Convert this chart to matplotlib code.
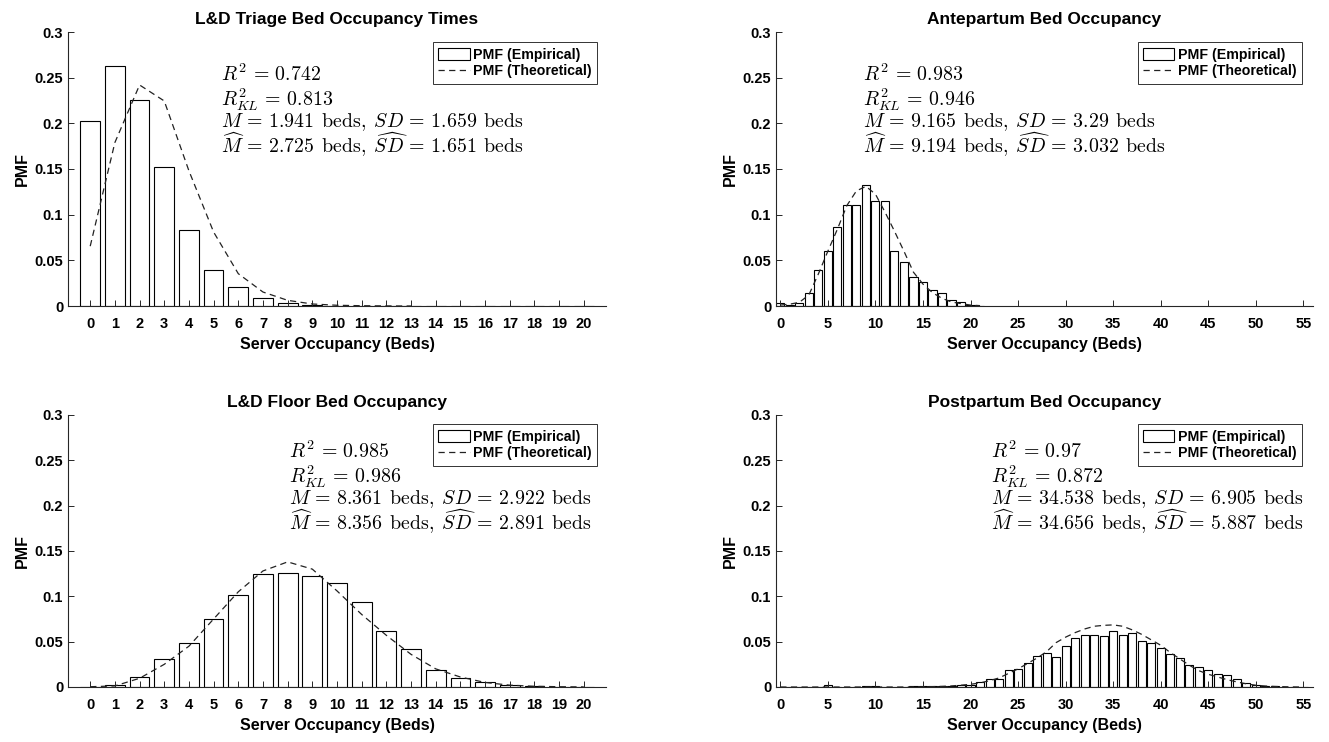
import matplotlib
matplotlib.use("Agg")
import numpy as np
import matplotlib.pyplot as plt
from matplotlib.patches import Patch
from matplotlib.lines import Line2D
from matplotlib.transforms import offset_copy

plt.rcParams.update({
    "font.family": ["Liberation Sans", "DejaVu Sans"],
    "font.weight": "bold",
    "mathtext.fontset": "cm",
    "axes.linewidth": 0.8,
})

# =========================
# Data
# =========================
triage_emp = [0.2023, 0.2624, 0.2253, 0.1521, 0.0833, 0.0397, 0.0211, 0.0087,
              0.0036, 0.0012, 0.0004, 0.0002, 0.0001, 0.0001, 0, 0, 0, 0, 0, 0, 0]
triage_theo = [0.0655, 0.179, 0.242, 0.2245, 0.148, 0.081, 0.0354, 0.0153,
               0.0062, 0.0022, 0.0008, 0.0003, 0.0001, 0.0]

ante_emp = [0.003, 0.0015, 0.003, 0.014, 0.0398, 0.0598, 0.0865, 0.1106, 0.1104,
            0.133, 0.1153, 0.1146, 0.0598, 0.0478, 0.0317, 0.0262, 0.0176, 0.0144,
            0.0062, 0.0042, 0.001, 0.0004]
ante_theo = [0.001, 0.002, 0.004, 0.012, 0.035, 0.060, 0.084, 0.110, 0.126, 0.131,
             0.1225, 0.103, 0.082, 0.060, 0.037, 0.024, 0.0146, 0.0084, 0.0044,
             0.0026, 0.001, 0.0004]

floor_emp = [0.0002, 0.0026, 0.0113, 0.031, 0.0483, 0.075, 0.1013, 0.1244, 0.1262,
             0.1229, 0.1152, 0.0936, 0.0622, 0.042, 0.019, 0.0099, 0.0051, 0.0018,
             0.0007, 0.0003, 0.0001]
floor_theo = [0.0003, 0.0012, 0.0096, 0.025, 0.045, 0.075, 0.105, 0.128, 0.138,
              0.130, 0.106, 0.080, 0.057, 0.036, 0.020, 0.011, 0.005, 0.002,
              0.0008, 0.0003, 0.0001]

post_emp = [0.0003, 0.0002, 0.0002, 0.0003, 0.0005, 0.0018, 0.0005, 0.0003, 0.0003,
            0.0006, 0.0008, 0.0004, 0.0003, 0.0005, 0.0009, 0.0012, 0.0014, 0.0011,
            0.0013, 0.0026, 0.0019, 0.0052, 0.0085, 0.0093, 0.0185, 0.0204, 0.027,
            0.034, 0.0378, 0.0333, 0.0452, 0.0544, 0.057, 0.0578, 0.0567, 0.0619,
            0.0578, 0.0593, 0.0511, 0.0489, 0.043, 0.0359, 0.0322, 0.0248, 0.0222,
            0.0193, 0.0148, 0.0137, 0.0093, 0.0048, 0.0022, 0.0011, 0.0007, 0.0005,
            0.0002, 0.0001]
post_theo = [0, 0, 0, 0, 0, 0, 0, 0, 0, 0, 0, 0, 0, 0, 0.0001, 0.0002, 0.0004,
             0.0007, 0.0012, 0.002, 0.003, 0.0045, 0.007, 0.010, 0.015, 0.020, 0.026,
             0.032, 0.039, 0.049, 0.055, 0.060, 0.064, 0.067, 0.068, 0.0685, 0.067,
             0.063, 0.058, 0.052, 0.046, 0.038, 0.031, 0.024, 0.018, 0.014, 0.011,
             0.008, 0.0056, 0.0035, 0.0019, 0.0011, 0.0006, 0.0003, 0.0001, 0.0]

titles = ["L&D Triage Bed Occupancy Times", "Antepartum Bed Occupancy",
          "L&D Floor Bed Occupancy", "Postpartum Bed Occupancy"]
stats = [
    ("0.742", "0.813", "1.941", "1.659", "2.725", "1.651"),
    ("0.983", "0.946", "9.165", "3.29", "9.194", "3.032"),
    ("0.985", "0.986", "8.361", "2.922", "8.356", "2.891"),
    ("0.97", "0.872", "34.538", "6.905", "34.656", "5.887"),
]

panels = [
    (triage_emp, triage_theo),
    (ante_emp, ante_theo),
    (floor_emp, floor_theo),
    (post_emp, post_theo),
]

# axes rectangles in figure fraction
W, H = 1329, 742
rects = [
    (68 / W, (H - 306) / H, 538 / W, 274 / H),
    (776 / W, (H - 306) / H, 537 / W, 274 / H),
    (68 / W, (H - 687) / H, 538 / W, 272 / H),
    (776 / W, (H - 687) / H, 537 / W, 272 / H),
]
# first baseline of the annotation (axes fraction) and baseline offsets in points;
# the last entry is the baseline of the two-line M / M-hat block (its last line)
text_pos = [(0.284, 0.821), (0.162, 0.821), (0.411, 0.843), (0.400, 0.843)]
line_off = [0, 18, 52.0]
leg_anchor = [(0.984, 0.964), (0.980, 0.964), (0.984, 0.967), (0.980, 0.967)]

fig = plt.figure(figsize=(13.29, 7.42), dpi=100)
axc = "#262626"
dash = (0, (5, 3.5))

for i, ((emp, theo), title, st) in enumerate(zip(panels, titles, stats)):
    ax = fig.add_axes(rects[i])
    wide = i in (1, 3)
    xe = np.arange(len(emp))
    xt = np.arange(len(theo))
    ax.bar(xe, emp, width=0.85 if wide else 0.8, facecolor="white",
           edgecolor="black", linewidth=0.8)
    ax.plot(xt, theo, color="#222222", linestyle=dash, linewidth=0.9)

    ax.set_ylim(0, 0.3)
    ax.set_yticks([0, 0.05, 0.1, 0.15, 0.2, 0.25, 0.3])
    ax.set_yticklabels(["0", "0.05", "0.1", "0.15", "0.2", "0.25", "0.3"])
    if wide:
        ax.set_xlim(-0.45, 56)
        ax.set_xticks(np.arange(0, 56, 5))
    else:
        ax.set_xlim(-0.9, 20.9)
        ax.set_xticks(np.arange(0, 21, 1))

    for s in ("top", "right"):
        ax.spines[s].set_visible(False)
    for s in ("left", "bottom"):
        ax.spines[s].set_color(axc)
    ax.tick_params(direction="in", length=4, width=0.7, colors=axc,
                   labelsize=10.5, labelcolor="black")
    ax.tick_params(axis="x", pad=8)
    for lab in ax.get_xticklabels() + ax.get_yticklabels():
        lab.set_fontweight("bold")

    ax.set_title(title, fontsize=12.5, fontweight="bold", pad=6)
    ax.set_xlabel("Server Occupancy (Beds)", fontsize=11.5, fontweight="bold", labelpad=4)
    ax.set_ylabel("PMF", fontsize=11.5, fontweight="bold", labelpad=3)

    r2, rkl, m, sd, mh, sdh = st
    lines = [
        r"$R^2\,=\,%s$" % r2,
        r"$R^2_{KL}\,=\,%s$" % rkl,
        (r"$M\,=\,%s\;\,\mathrm{beds,}\;SD\,=\,%s\;\,\mathrm{beds}$" % (m, sd)
         + "\n"
         + r"$\widehat{M}\,=\,%s\;\,\mathrm{beds,}\;\widehat{SD}\,=\,%s\;\,\mathrm{beds}$" % (mh, sdh)),
    ]
    for k, s in enumerate(lines):
        tr = offset_copy(ax.transAxes, fig=fig, x=0, y=-line_off[k], units="points")
        ax.text(text_pos[i][0], text_pos[i][1], s, transform=tr,
                fontsize=14.3, va="baseline", ha="left", linespacing=0.9)

    handles = [Patch(facecolor="white", edgecolor="black", linewidth=0.8),
               Line2D([0], [0], color="#222222", linestyle=dash, linewidth=0.9)]
    leg = ax.legend(handles, ["PMF (Empirical)", "PMF (Theoretical)"],
                    loc="upper right", bbox_to_anchor=leg_anchor[i],
                    prop={"weight": "bold", "size": 10.2}, fancybox=False,
                    framealpha=1, edgecolor="#333333", borderpad=0.4,
                    handlelength=2.2, handleheight=0.9, handletextpad=0.25,
                    labelspacing=0.2, borderaxespad=0.0)
    leg.get_frame().set_linewidth(0.7)

fig.savefig("out.png", dpi=100)
plt.close(fig)
